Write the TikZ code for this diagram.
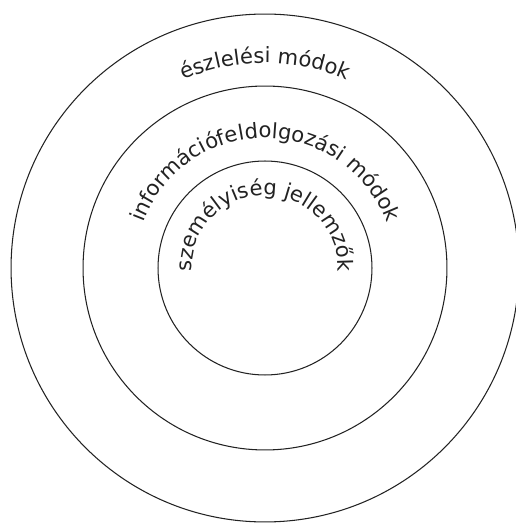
\documentclass[tikz,border=0pt]{standalone}
\usepackage{fontspec}
\usepackage{xcolor}
\usepackage{tikz}
\usetikzlibrary{decorations.text}
\setmainfont{DejaVu Sans}
\newfontfamily\arcfont{DejaVu Sans}
\definecolor{ink}{HTML}{222222}

\begin{document}
\begin{tikzpicture}[
    x=0.02cm, y=0.02cm,
    ring/.style={circle, draw=ink, line width=0.6pt, inner sep=0pt},
    arclabel/.style={decorate, decoration={text along path, text align=center, text color=ink}}
]
    \useasboundingbox (-265,-255) rectangle (251,268);

    % Rings
    \coordinate (center) at (0,0);
    \node[ring, minimum size=10.16cm] (outer) at (center) {};
    \node[ring, minimum size=7.28cm] (middle) at (center) {};
    \node[ring, minimum size=4.28cm] (inner) at (center) {};

    % Labels along the rings
    \path[arclabel, decoration={text={|\arcfont\fontsize{12}{14}\selectfont|észlelési módok}}]
        (center) ++(180:205) arc[start angle=180, end angle=0, radius=205];
    \path[arclabel, decoration={text={|\arcfont\fontsize{12}{14}\selectfont|információfeldolgozási módok}}]
        (center) ++(200:130) arc[start angle=200, end angle=-20, radius=130];
    \path[arclabel, decoration={text={|\arcfont\fontsize{12}{14}\selectfont|személyiség jellemzők}}]
        (center) ++(210:73) arc[start angle=210, end angle=-30, radius=73];
\end{tikzpicture}
\end{document}
